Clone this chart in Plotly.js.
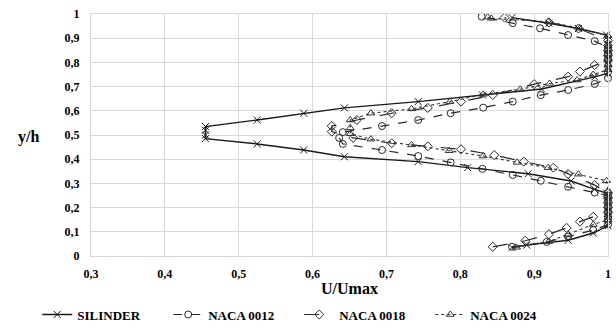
<!DOCTYPE html>
<html>
<head>
<meta charset="utf-8">
<script src="https://cdn.plot.ly/plotly-3.0.1.min.js"></script>
<style>html,body{margin:0;padding:0;background:#fff;}#chart{width:616px;height:329px;}</style>
</head>
<body>
<div id="chart"></div>
<script>
// SILINDER
const silX = [0.87,0.89,0.946,0.98,1,1,1,1,1,1,1,0.998,0.982,0.95,0.892,0.81,0.743,0.643,0.588,0.525,0.455,0.455,0.455,0.455,0.525,0.588,0.643,0.743,0.83,0.91,0.982,1,1,1,1,1,1,1,1,0.998,0.96,0.92,0.87];
const silY = [0.035,0.045,0.065,0.095,0.125,0.145,0.165,0.185,0.205,0.225,0.245,0.26,0.275,0.31,0.34,0.365,0.39,0.41,0.438,0.463,0.485,0.5,0.52,0.535,0.562,0.59,0.612,0.638,0.665,0.69,0.74,0.755,0.775,0.795,0.815,0.835,0.855,0.875,0.895,0.913,0.94,0.962,0.985];
// NACA 0012
const n12X = [0.87,0.917,0.946,0.98,1,1,1,1,1,1,0.982,0.946,0.909,0.871,0.83,0.787,0.743,0.694,0.641,0.636,0.641,0.694,0.743,0.787,0.831,0.871,0.909,0.946,0.982,1,1,1,1,1,1,0.982,0.946,0.908,0.871,0.829];
const n12Y = [0.038,0.058,0.08,0.107,0.13,0.155,0.18,0.205,0.23,0.25,0.262,0.286,0.311,0.335,0.36,0.387,0.413,0.438,0.463,0.488,0.512,0.537,0.562,0.59,0.613,0.638,0.665,0.686,0.711,0.735,0.76,0.785,0.81,0.835,0.86,0.888,0.913,0.941,0.962,0.989];
// NACA 0018
const n18X = [0.844,0.888,0.92,0.944,0.962,0.98,1,1,1,1,1,0.982,0.946,0.926,0.886,0.846,0.801,0.756,0.707,0.655,0.626,0.626,0.66,0.707,0.756,0.801,0.844,0.9,0.946,0.962,0.982,1,1,1,1,1,0.96,0.92,0.86];
const n18Y = [0.038,0.063,0.09,0.116,0.142,0.162,0.18,0.2,0.22,0.24,0.26,0.293,0.339,0.365,0.39,0.417,0.441,0.453,0.466,0.488,0.514,0.537,0.562,0.59,0.612,0.638,0.665,0.71,0.741,0.762,0.789,0.81,0.83,0.85,0.87,0.89,0.94,0.965,0.985];
// NACA 0024
const n24X = [0.876,0.92,0.946,0.98,1,1,1,1,1,1,1,0.998,0.96,0.919,0.877,0.831,0.785,0.734,0.679,0.651,0.651,0.651,0.679,0.734,0.786,0.831,0.881,0.921,0.958,0.98,1,1,1,1,1,1,1,0.962,0.919,0.842,0.837];
const n24Y = [0.036,0.06,0.09,0.13,0.15,0.17,0.19,0.21,0.23,0.25,0.27,0.311,0.338,0.365,0.387,0.413,0.435,0.459,0.483,0.505,0.529,0.562,0.59,0.608,0.638,0.668,0.689,0.713,0.727,0.75,0.77,0.79,0.81,0.83,0.85,0.87,0.91,0.941,0.968,0.982,0.987];

const names = ["SILINDER","NACA 0012","NACA 0018","NACA 0024"];
const xTickVals = [0.3,0.4,0.5,0.6,0.7,0.8,0.9,1];
const yTickVals = [0,0.1,0.2,0.3,0.4,0.5,0.6,0.7,0.8,0.9,1];

const SERIF = 'Liberation Serif';
function tr(x, y, name, sym, dash, w, col) {
  return {x: x, y: y, name: name, type: 'scatter', mode: 'lines+markers', cliponaxis: false,
    line: {color: col, width: w, dash: dash},
    marker: {symbol: sym, size: 7, color: col, line: {color: col, width: 1}}};
}
const data = [
  tr(silX, silY, names[0], 'x-thin-open', 'solid', 1.4, '#1a1a1a'),
  tr(n12X, n12Y, names[1], 'circle-open', 'dash', 1.2, '#2a2a2a'),
  tr(n18X, n18Y, names[2], 'diamond-open', 'longdash', 1.2, '#2a2a2a'),
  tr(n24X, n24Y, names[3], 'triangle-up-open', 'dot', 1.1, '#333')
];
const layout = {
  width: 616, height: 329,
  margin: {l: 91, r: 8, t: 14, b: 73, autoexpand: false},
  separators: ', ',
  paper_bgcolor: '#fff', plot_bgcolor: '#fff',
  showlegend: true,
  legend: {orientation: 'h', x: -0.104, xanchor: 'left', y: -0.18, yanchor: 'top',
    font: {family: SERIF, size: 13, color: '#000', weight: 'bold'},
    entrywidth: 86, entrywidthmode: 'pixels', tracegroupgap: 0, bgcolor: 'rgba(0,0,0,0)'},
  xaxis: {range: [0.3, 1], tickvals: xTickVals, showgrid: true, gridcolor: '#d9d9d9', gridwidth: 1,
    zeroline: false, showline: true, linecolor: '#d9d9d9', mirror: true, automargin: false,
    ticks: 'outside', ticklen: 7, tickcolor: 'rgba(0,0,0,0)',
    tickfont: {family: SERIF, size: 12, color: '#000', weight: 'bold'}},
  yaxis: {range: [0, 1], tickvals: yTickVals, showgrid: true, gridcolor: '#d9d9d9', gridwidth: 1,
    zeroline: false, showline: true, linecolor: '#d9d9d9', mirror: true, automargin: false,
    ticks: 'outside', ticklen: 8, tickcolor: 'rgba(0,0,0,0)',
    tickfont: {family: SERIF, size: 12, color: '#000', weight: 'bold'}},
  annotations: [
    {text: 'U/Umax', xref: 'paper', yref: 'paper', x: 0.5, y: (256-289)/242, xanchor: 'center', yanchor: 'middle',
      showarrow: false, font: {family: SERIF, size: 16, color: '#000', weight: 'bold'}},
    {text: 'y/h', xref: 'paper', yref: 'paper', x: (28-91)/517, y: (256-137)/242, xanchor: 'center', yanchor: 'middle',
      showarrow: false, font: {family: SERIF, size: 16, color: '#000', weight: 'bold'}}
  ]
};
Plotly.newPlot('chart', data, layout, {displayModeBar: false, staticPlot: true});
</script>
</body>
</html>
